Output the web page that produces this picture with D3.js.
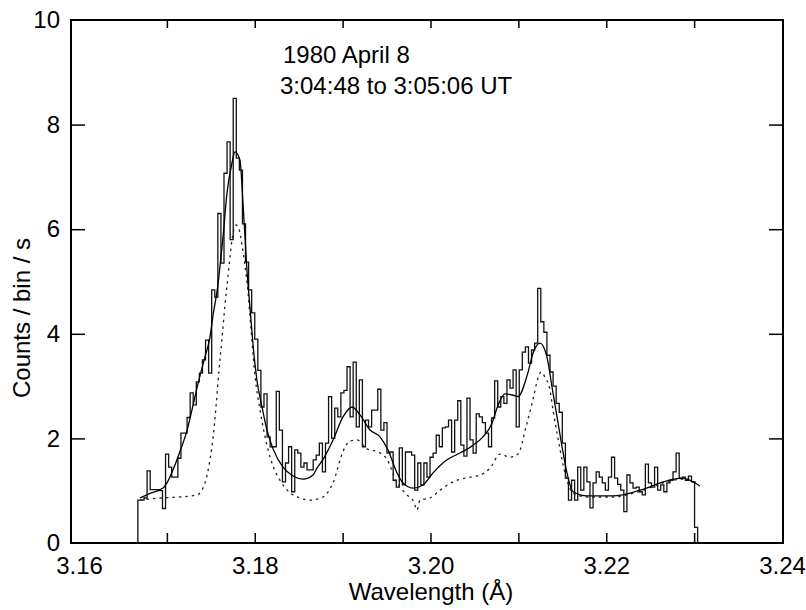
<!DOCTYPE html>
<html>
<head>
<meta charset="utf-8">
<script src="https://cdn.jsdelivr.net/npm/d3@7"></script>
<style>
  body { margin: 0; background: #fff; }
  text { font-family: 'Liberation Sans', Arial, sans-serif; fill: #000; }
</style>
</head>
<body>
<svg id="chart" width="806" height="610"></svg>
<script>
// spectrum histogram: uniform bins starting at binStart (Angstrom)
const binStart = 3.1667;
const binWidth = 0.00035;
const counts = [
  0.82, 0.82, 0.86, 1.38, 1.02, 1.02, 1.02, 1.0, 0.66, 1.7,
  1.45, 1.26, 1.26, 1.62, 2.1, 2.1, 2.4, 2.87, 2.64, 3.08,
  3.25, 3.5, 3.88, 3.25, 4.84, 4.7, 6.3, 5.35, 7.07, 7.67,
  5.8, 8.5, 7.36, 7.13, 6.1, 5.37, 4.84, 4.4, 3.9, 3.3,
  2.6, 2.85, 2.03, 1.84, 1.84, 2.9, 2.16, 1.17, 1.53, 1.84,
  0.98, 1.78, 1.72, 1.45, 1.53, 1.4, 1.4, 1.59, 1.68, 1.91,
  1.36, 1.91, 2.8, 2.0, 2.58, 2.41, 2.87, 2.92, 3.37, 2.41,
  3.46, 2.22, 3.12, 1.84, 2.35, 2.22, 2.54, 2.54, 2.94, 2.16,
  2.3, 1.72, 1.74, 1.2, 1.07, 1.82, 1.11, 1.74, 1.74, 1.68,
  1.01, 1.53, 1.11, 1.53, 1.26, 1.64, 1.72, 2.06, 1.84, 2.2,
  2.22, 2.35, 1.74, 2.35, 2.72, 1.87, 1.66, 2.77, 1.97, 1.72,
  2.47, 2.41, 2.3, 2.1, 1.84, 2.39, 3.1, 2.6, 2.8, 2.67,
  3.12, 2.96, 3.31, 2.22, 3.31, 3.65, 3.75, 3.44, 3.69, 3.82,
  4.87, 4.23, 4.03, 3.59, 3.27, 3.0, 2.67, 2.5, 1.91, 1.24,
  0.82, 1.2, 0.82, 1.45, 1.01, 1.45, 1.17, 0.67, 1.15, 1.36,
  1.26, 1.15, 1.01, 1.26, 1.64, 1.24, 1.12, 1.01, 0.6, 1.3,
  1.15, 1.05, 1.07, 0.98, 0.92, 1.51, 1.15, 1.07, 1.45, 1.01,
  1.11, 0.98, 1.15, 1.2, 1.36, 1.72, 1.24, 1.26, 1.2, 1.28,
  1.17, 0.3,
];

// fitted spectrum (solid line): [wavelength, counts]
const fitCurve = [
  [3.16694, 0.86], [3.16808, 0.95], [3.16956, 1.05], [3.17001, 1.15], [3.17070, 1.4],
  [3.17149, 1.75], [3.17229, 2.15], [3.17320, 2.8], [3.17377, 3.2], [3.17434, 3.56],
  [3.17491, 3.94], [3.17525, 4.35], [3.17582, 4.95], [3.17605, 5.3], [3.17639, 5.85],
  [3.17684, 6.69], [3.17741, 7.27], [3.17775, 7.48], [3.17832, 7.32], [3.17866, 6.5],
  [3.17912, 5.2], [3.17946, 4.5], [3.17980, 3.8], [3.18026, 3.1], [3.18083, 2.6],
  [3.18139, 2.16], [3.18208, 1.8], [3.18322, 1.45], [3.18435, 1.28], [3.18549, 1.22],
  [3.18663, 1.3], [3.18708, 1.43], [3.18777, 1.6], [3.18891, 1.97], [3.19004, 2.41],
  [3.19107, 2.6], [3.19198, 2.45], [3.19312, 2.16], [3.19425, 2.03], [3.19516, 1.78],
  [3.19619, 1.34], [3.19687, 1.15], [3.19801, 1.05], [3.19915, 1.11], [3.20029, 1.34],
  [3.20188, 1.59], [3.20336, 1.72], [3.20484, 1.87], [3.20597, 2.03], [3.20700, 2.29],
  [3.20757, 2.58], [3.20848, 2.85], [3.20928, 2.83], [3.20996, 2.8], [3.21099, 3.2],
  [3.21167, 3.63], [3.21246, 3.82], [3.21326, 3.55], [3.21383, 2.98], [3.21440, 2.41],
  [3.21497, 1.84], [3.21553, 1.34], [3.21622, 0.98], [3.21781, 0.9], [3.22077, 0.9],
  [3.22384, 1.01], [3.22691, 1.19], [3.22874, 1.24], [3.22987, 1.17], [3.23067, 1.09],
];

// model component (dotted line): [wavelength, counts]
const componentCurve = [
  [3.16694, 0.82], [3.16922, 0.86], [3.17149, 0.88], [3.17343, 0.92], [3.17434, 1.15],
  [3.17491, 1.6], [3.17525, 2.0], [3.17559, 2.6], [3.17593, 3.3], [3.17627, 3.9],
  [3.17661, 4.55], [3.17696, 5.1], [3.17730, 5.65], [3.17764, 6.0], [3.17787, 6.08],
  [3.17821, 6.0], [3.17855, 5.7], [3.17889, 5.3], [3.17923, 4.8], [3.17957, 4.1],
  [3.18003, 3.2], [3.18060, 2.54], [3.18117, 2.03], [3.18196, 1.53], [3.18287, 1.2],
  [3.18401, 0.96], [3.18515, 0.86], [3.18629, 0.82], [3.18765, 0.87], [3.18891, 1.15],
  [3.19004, 1.75], [3.19084, 1.95], [3.19164, 1.97], [3.19277, 1.8], [3.19391, 1.75],
  [3.19505, 1.6], [3.19619, 1.15], [3.19733, 0.92], [3.19812, 0.78], [3.19846, 0.63],
  [3.19881, 0.82], [3.19994, 0.86], [3.20108, 1.01], [3.20256, 1.17], [3.20415, 1.25],
  [3.20563, 1.3], [3.20677, 1.43], [3.20791, 1.7], [3.20905, 1.64], [3.20996, 1.7],
  [3.21087, 2.22], [3.21167, 2.75], [3.21223, 3.15], [3.21258, 3.27], [3.21303, 3.17],
  [3.21360, 2.92], [3.21394, 2.54], [3.21451, 2.0], [3.21508, 1.5], [3.21553, 1.2],
  [3.21622, 0.95], [3.21781, 0.88], [3.22077, 0.88], [3.22384, 0.99], [3.22691, 1.17],
  [3.22874, 1.22], [3.23033, 1.15],
];

const xLabelTicks = [3.16, 3.18, 3.20, 3.22, 3.24];
const xMinorTicks = [3.17, 3.18, 3.19, 3.20, 3.21, 3.22, 3.23];
const yTicks = [0, 2, 4, 6, 8, 10];
const yInnerTicks = [2, 4, 6, 8];
const notes = ['1980 April 8', '3:04:48 to 3:05:06 UT'];

const svg = d3.select('#chart');
const frame = {
  left: 71, top: 20, right: 783, bottom: 543,
};

const x = d3.scaleLinear()
  .domain([3.16, 3.24])
  .range([frame.left + 8, frame.right - 1]);

const y = d3.scaleLinear()
  .domain([0, 10])
  .range([frame.bottom, frame.top]);

// tick marks pointing into the box on all four sides
const tickAxis = (axis, tx, ty) => svg.append('g')
  .attr('transform', `translate(${tx},${ty})`)
  .call(axis)
  .call(g => g.select('.domain').remove())
  .call(g => g.selectAll('line').attr('stroke', '#000').attr('stroke-width', 1.5));

tickAxis(d3.axisBottom(x).tickValues(xMinorTicks).tickSize(-10).tickFormat(''), 0, frame.bottom);
tickAxis(d3.axisTop(x).tickValues(xMinorTicks).tickSize(-8).tickFormat(''), 0, frame.top);
tickAxis(d3.axisLeft(y).tickValues(yInnerTicks).tickSize(-14).tickFormat(''), frame.left, 0);
tickAxis(d3.axisRight(y).tickValues(yInnerTicks).tickSize(-14).tickFormat(''), frame.right, 0);

// tick labels
svg.append('g')
  .attr('transform', `translate(0,${frame.bottom})`)
  .call(d3.axisBottom(x).tickValues(xLabelTicks).tickSize(0).tickPadding(14)
    .tickFormat(d3.format('.2f')))
  .call(g => g.select('.domain').remove())
  .selectAll('text')
  .attr('font-size', 24)
  .attr('font-family', "'Liberation Sans', Arial, sans-serif");

svg.append('g')
  .attr('transform', `translate(${frame.left},0)`)
  .call(d3.axisLeft(y).tickValues(yTicks).tickSize(0).tickPadding(11))
  .call(g => g.select('.domain').remove())
  .selectAll('text')
  .attr('font-size', 24)
  .attr('font-family', "'Liberation Sans', Arial, sans-serif");

svg.append('rect')
  .attr('x', frame.left)
  .attr('y', frame.top)
  .attr('width', frame.right - frame.left)
  .attr('height', frame.bottom - frame.top)
  .attr('fill', 'none')
  .attr('stroke', '#000')
  .attr('stroke-width', 2);

// histogram as a step line
const edges = counts.map((c, i) => [binStart + i * binWidth, c]);
const binEnd = binStart + counts.length * binWidth;
const steps = [[binStart, 0], ...edges, [binEnd, 0]];

const stepLine = d3.line()
  .x(d => x(d[0]))
  .y(d => y(d[1]))
  .curve(d3.curveStepAfter);

svg.append('path')
  .datum(steps)
  .attr('d', stepLine)
  .attr('fill', 'none')
  .attr('stroke', '#111')
  .attr('stroke-width', 1.3);

const smooth = d3.line()
  .x(d => x(d[0]))
  .y(d => y(d[1]))
  .curve(d3.curveMonotoneX);

svg.append('path')
  .datum(componentCurve)
  .attr('d', smooth)
  .attr('fill', 'none')
  .attr('stroke', '#222')
  .attr('stroke-width', 1.3)
  .attr('stroke-dasharray', '2.5,4');

svg.append('path')
  .datum(fitCurve)
  .attr('d', smooth)
  .attr('fill', 'none')
  .attr('stroke', '#000')
  .attr('stroke-width', 1.3);

// labels
svg.append('g')
  .selectAll('text')
  .data(notes)
  .enter()
  .append('text')
  .attr('x', (d, i) => 283 - i * 3)
  .attr('y', (d, i) => 63 + i * 31)
  .attr('font-size', 24)
  .text(d => d);

svg.append('text')
  .attr('x', 431)
  .attr('y', 600)
  .attr('text-anchor', 'middle')
  .attr('font-size', 24)
  .text('Wavelength (Å)');

svg.append('text')
  .attr('transform', 'translate(22,318) rotate(-90)')
  .attr('text-anchor', 'middle')
  .attr('dy', '0.35em')
  .attr('font-size', 24)
  .text('Counts / bin / s');
</script>
</body>
</html>
